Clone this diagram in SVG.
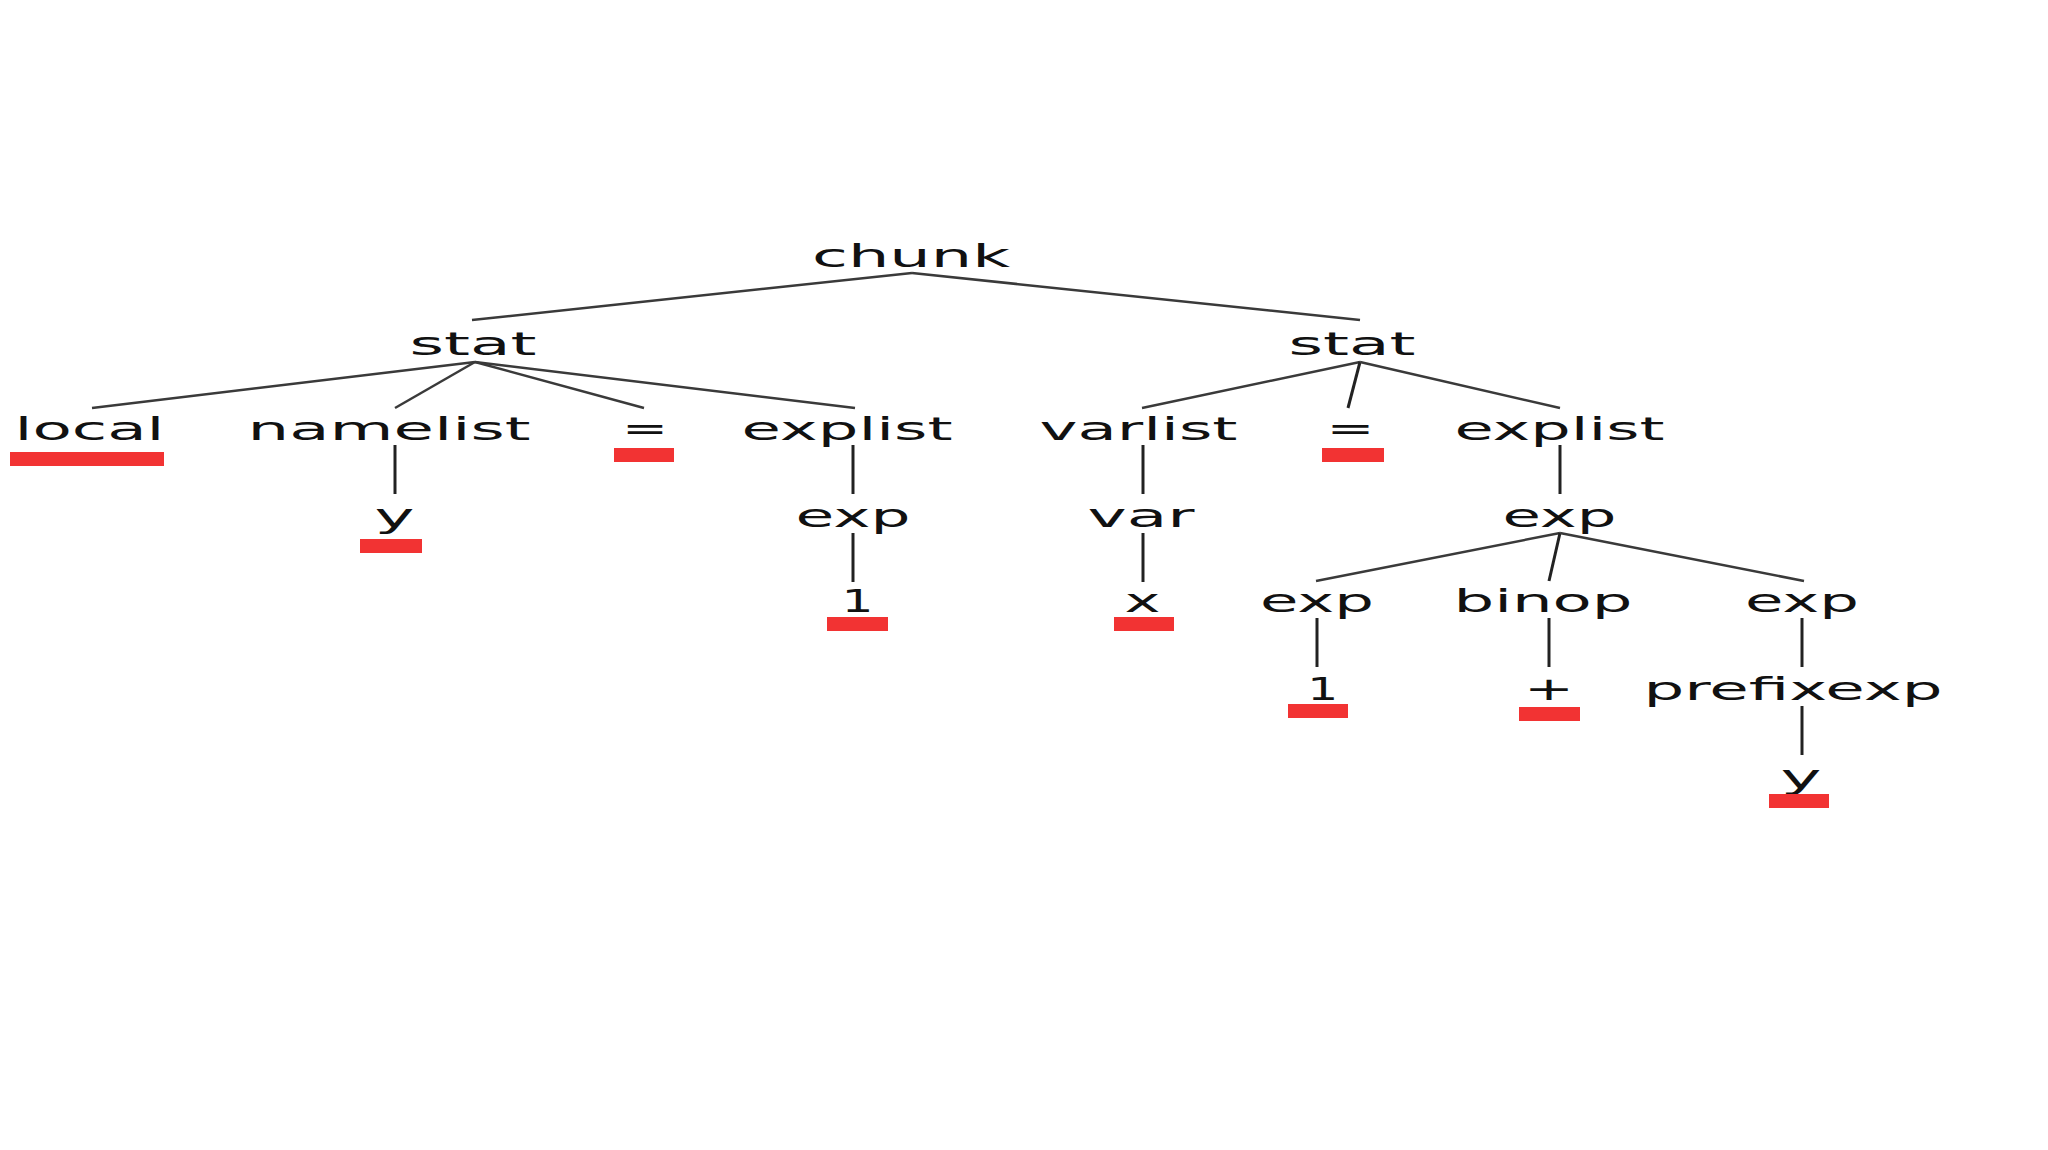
<svg xmlns="http://www.w3.org/2000/svg" width="2048" height="1150" viewBox="0 0 2048 1150">
<style>
.t{font-family:"DejaVu Sans",sans-serif;font-size:32px;fill:#111;text-anchor:middle}
.e{stroke:#3a3a3a;stroke-width:2.5;fill:none}
.v{stroke:#222;stroke-width:3;fill:none}
.b{fill:#f23333}
</style>
<rect width="2048" height="1150" fill="#ffffff"/>
<g id="connectors">
<path class="e" d="M912 273L472 320"/>
<path class="e" d="M912 273L1360 320"/>
<path class="e" d="M475 362L92 408"/>
<path class="e" d="M475 362L395 408"/>
<path class="e" d="M475 362L644 408"/>
<path class="e" d="M475 362L855 408"/>
<path class="v" d="M395 445L395 494"/>
<path class="v" d="M853 445L853 494"/>
<path class="v" d="M853 533L853 582"/>
<path class="e" d="M1360 362L1142 408"/>
<path class="v" d="M1360 362L1348 408"/>
<path class="e" d="M1360 362L1560 408"/>
<path class="v" d="M1143 445L1143 494"/>
<path class="v" d="M1143 533L1143 582"/>
<path class="v" d="M1560 445L1560 494"/>
<path class="e" d="M1560 533L1316 581"/>
<path class="v" d="M1560 533L1549 581"/>
<path class="e" d="M1560 533L1804 581"/>
<path class="v" d="M1317 618L1317 667"/>
<path class="v" d="M1549 618L1549 667"/>
<path class="v" d="M1802 618L1802 667"/>
<path class="v" d="M1802 706L1802 755"/>
</g>
<g id="n-chunk"><text class="t" x="911" y="267" textLength="198" lengthAdjust="spacingAndGlyphs">chunk</text></g>
<g id="n-stat1"><text class="t" x="473" y="355" textLength="127" lengthAdjust="spacingAndGlyphs">stat</text></g>
<g id="n-stat2"><text class="t" x="1352" y="355" textLength="127" lengthAdjust="spacingAndGlyphs">stat</text></g>
<g id="n-local"><text class="t" x="89.5" y="440" textLength="150" lengthAdjust="spacingAndGlyphs">local</text><rect class="b" x="10" y="452" width="154" height="14"/></g>
<g id="n-namelist"><text class="t" x="389" y="440" textLength="283" lengthAdjust="spacingAndGlyphs">namelist</text></g>
<g id="n-eq1"><text class="t" x="645" y="440" textLength="46" lengthAdjust="spacingAndGlyphs">=</text><rect class="b" x="614" y="448" width="60" height="14"/></g>
<g id="n-explist1"><text class="t" x="847" y="440" textLength="211" lengthAdjust="spacingAndGlyphs">explist</text></g>
<g id="n-y1"><text class="t" x="394.5" y="527" textLength="40" lengthAdjust="spacingAndGlyphs">y</text><rect class="b" x="360" y="539" width="62" height="14"/></g>
<g id="n-exp1"><text class="t" x="853" y="527" textLength="115" lengthAdjust="spacingAndGlyphs">exp</text></g>
<g id="n-one1"><text class="t" x="857.5" y="612" textLength="32" lengthAdjust="spacingAndGlyphs">1</text><rect class="b" x="827" y="617" width="61" height="14"/></g>
<g id="n-varlist"><text class="t" x="1138.5" y="440" textLength="198" lengthAdjust="spacingAndGlyphs">varlist</text></g>
<g id="n-eq2"><text class="t" x="1350.5" y="440" textLength="48" lengthAdjust="spacingAndGlyphs">=</text><rect class="b" x="1322" y="448" width="62" height="14"/></g>
<g id="n-explist2"><text class="t" x="1559.5" y="440" textLength="210" lengthAdjust="spacingAndGlyphs">explist</text></g>
<g id="n-var"><text class="t" x="1141" y="527" textLength="107" lengthAdjust="spacingAndGlyphs">var</text></g>
<g id="n-x"><text class="t" x="1142.5" y="612" textLength="36" lengthAdjust="spacingAndGlyphs">x</text><rect class="b" x="1114" y="617" width="60" height="14"/></g>
<g id="n-exp2"><text class="t" x="1559.5" y="527" textLength="114" lengthAdjust="spacingAndGlyphs">exp</text></g>
<g id="n-exp3"><text class="t" x="1317" y="612" textLength="114" lengthAdjust="spacingAndGlyphs">exp</text></g>
<g id="n-binop"><text class="t" x="1543" y="612" textLength="179" lengthAdjust="spacingAndGlyphs">binop</text></g>
<g id="n-exp4"><text class="t" x="1802" y="612" textLength="114" lengthAdjust="spacingAndGlyphs">exp</text></g>
<g id="n-one2"><text class="t" x="1322.7" y="700" textLength="31" lengthAdjust="spacingAndGlyphs">1</text><rect class="b" x="1288" y="704" width="60" height="14"/></g>
<g id="n-plus"><text class="t" x="1549" y="700" textLength="50" lengthAdjust="spacingAndGlyphs">+</text><rect class="b" x="1519" y="707" width="61" height="14"/></g>
<g id="n-prefixexp"><text class="t" x="1793" y="700" textLength="299" lengthAdjust="spacingAndGlyphs">prefixexp</text></g>
<g id="n-y2"><text class="t" x="1801" y="788" textLength="41" lengthAdjust="spacingAndGlyphs">y</text><rect class="b" x="1769" y="794" width="60" height="14"/></g>
</svg>
